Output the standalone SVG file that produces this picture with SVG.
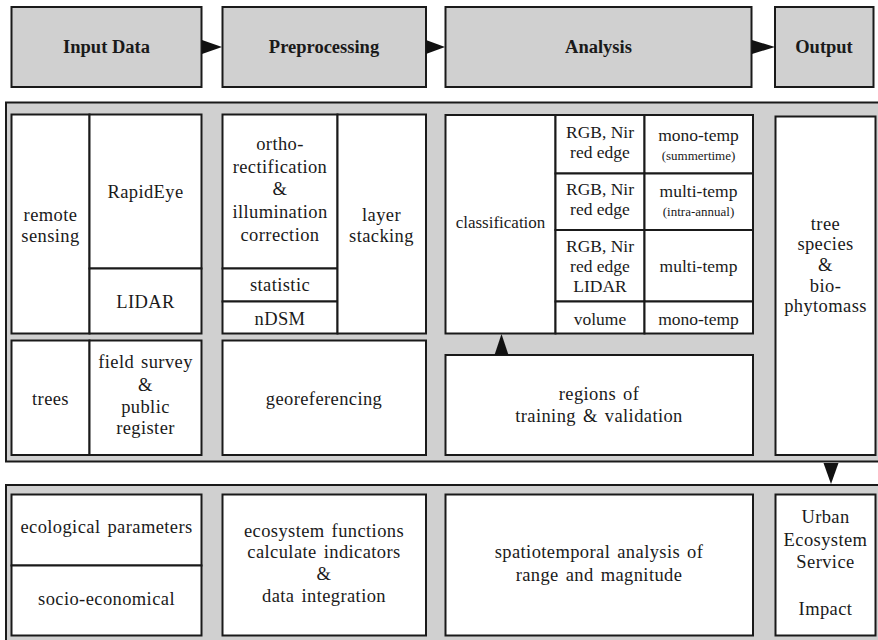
<svg xmlns="http://www.w3.org/2000/svg" width="878" height="640" viewBox="0 0 878 640" font-family="'Liberation Serif', 'DejaVu Serif', 'Times New Roman', serif">
<style>
.hdr{fill:#d0d0d0;stroke:#1a1a1a;stroke-width:2}
.panel{fill:#d0d0d0;stroke:#1a1a1a;stroke-width:2}
.box{fill:#ffffff;stroke:#1a1a1a;stroke-width:2}
text{font-family:'Liberation Serif','DejaVu Serif','Times New Roman',serif;fill:#1a1a1a;text-anchor:middle}
.h{font-weight:bold;font-size:18.5px}
.t{font-size:18.5px;letter-spacing:0.4px;word-spacing:2px}
.a{font-size:17.5px}
.s{font-size:13px}
.arr{fill:#111111}
</style>
<rect width="878" height="640" fill="#ffffff"/>
<g id="header-input"><rect class="hdr" x="11.5" y="7" width="190" height="80"/><text class="h" x="106.5" y="53">Input Data</text></g>
<g id="header-pre"><rect class="hdr" x="222.5" y="7" width="203.5" height="80"/><text class="h" x="324" y="53">Preprocessing</text></g>
<g id="header-analysis"><rect class="hdr" x="445.5" y="7" width="306" height="80"/><text class="h" x="598.5" y="53">Analysis</text></g>
<g id="header-output"><rect class="hdr" x="775" y="7" width="98.5" height="80"/><text class="h" x="824" y="53">Output</text></g>

<g id="panel-top"><rect class="panel" x="6" y="102.5" width="890" height="359"/></g>
<g id="panel-bottom"><rect class="panel" x="6" y="485" width="890" height="170"/></g>

<g id="remote-sensing"><rect class="box" x="11.5" y="114.5" width="78" height="219"/><text class="t" x="50.5" y="221">remote</text><text class="t" x="50.5" y="242">sensing</text></g>
<g id="rapideye"><rect class="box" x="89.5" y="114.5" width="112" height="154"/><text class="t" x="145.5" y="198">RapidEye</text></g>
<g id="lidar"><rect class="box" x="89.5" y="268.5" width="112" height="65"/><text class="t" x="145.5" y="308">LIDAR</text></g>
<g id="ortho"><rect class="box" x="222.5" y="114.5" width="115" height="154"/><text class="t" x="280" y="150">ortho-</text><text class="t" x="280" y="173">rectification</text><text class="t" x="280" y="195">&amp;</text><text class="t" x="280" y="218">illumination</text><text class="t" x="280" y="241">correction</text></g>
<g id="statistic"><rect class="box" x="222.5" y="268.5" width="115" height="33"/><text class="t" x="280" y="291">statistic</text></g>
<g id="ndsm"><rect class="box" x="222.5" y="301.5" width="115" height="32"/><text class="t" x="280" y="325">nDSM</text></g>
<g id="layer-stacking"><rect class="box" x="337.5" y="114.5" width="88.5" height="219"/><text class="t" x="381.5" y="221">layer</text><text class="t" x="381.5" y="242">stacking</text></g>
<g id="trees"><rect class="box" x="11.5" y="340.5" width="78" height="114.5"/><text class="t" x="50.5" y="405">trees</text></g>
<g id="field-survey"><rect class="box" x="89.5" y="340.5" width="112" height="114.5"/><text class="t" x="145.5" y="368">field survey</text><text class="t" x="145.5" y="391">&amp;</text><text class="t" x="145.5" y="413">public</text><text class="t" x="145.5" y="434">register</text></g>
<g id="georeferencing"><rect class="box" x="222.5" y="340.5" width="203.5" height="114.5"/><text class="t" x="324" y="405">georeferencing</text></g>

<g id="classification"><rect class="box" x="445.5" y="115" width="110" height="218.5"/><text class="a" x="500.5" y="228" style="font-size:17px">classification</text></g>
<g id="band1"><rect class="box" x="555.5" y="115" width="89" height="58.5"/><text class="a" x="600" y="138">RGB, Nir</text><text class="a" x="600" y="158">red edge</text></g>
<g id="temp1"><rect class="box" x="644.5" y="115" width="108.5" height="58.5"/><text class="a" x="698.5" y="141">mono-temp</text><text class="s" x="698.5" y="160">(summertime)</text></g>
<g id="band2"><rect class="box" x="555.5" y="173.5" width="89" height="56.5"/><text class="a" x="600" y="195">RGB, Nir</text><text class="a" x="600" y="215">red edge</text></g>
<g id="temp2"><rect class="box" x="644.5" y="173.5" width="108.5" height="56.5"/><text class="a" x="698.5" y="197">multi-temp</text><text class="s" x="698.5" y="216">(intra-annual)</text></g>
<g id="band3"><rect class="box" x="555.5" y="230" width="89" height="71.5"/><text class="a" x="600" y="252">RGB, Nir</text><text class="a" x="600" y="272">red edge</text><text class="a" x="600" y="292">LIDAR</text></g>
<g id="temp3"><rect class="box" x="644.5" y="230" width="108.5" height="71.5"/><text class="a" x="698.5" y="272">multi-temp</text></g>
<g id="volume"><rect class="box" x="555.5" y="301.5" width="89" height="32"/><text class="a" x="600" y="325">volume</text></g>
<g id="temp4"><rect class="box" x="644.5" y="301.5" width="108.5" height="32"/><text class="a" x="698.5" y="325">mono-temp</text></g>
<g id="regions"><rect class="box" x="445.5" y="355" width="307.5" height="100"/><text class="t" x="599" y="400">regions of</text><text class="t" x="599" y="422">training &amp; validation</text></g>
<g id="tree-species"><rect class="box" x="775.5" y="116.5" width="100" height="338.5"/><text class="t" x="825.5" y="230">tree</text><text class="t" x="825.5" y="250">species</text><text class="t" x="825.5" y="271">&amp;</text><text class="t" x="825.5" y="292">bio-</text><text class="t" x="825.5" y="312">phytomass</text></g>

<g id="ecological"><rect class="box" x="11.5" y="494.5" width="190" height="71"/><text class="t" x="106.5" y="533">ecological parameters</text></g>
<g id="socio"><rect class="box" x="11.5" y="565.5" width="190" height="70"/><text class="t" x="106.5" y="605">socio-economical</text></g>
<g id="ecosystem-functions"><rect class="box" x="222.5" y="494.5" width="203.5" height="141"/><text class="t" x="324" y="537">ecosystem functions</text><text class="t" x="324" y="558">calculate indicators</text><text class="t" x="324" y="580">&amp;</text><text class="t" x="324" y="602">data integration</text></g>
<g id="spatiotemporal"><rect class="box" x="445.5" y="494.5" width="307.5" height="141"/><text class="t" x="599" y="558">spatiotemporal analysis of</text><text class="t" x="599" y="581">range and magnitude</text></g>
<g id="urban"><rect class="box" x="775.5" y="494.5" width="100" height="141"/><text class="t" x="825.5" y="523">Urban</text><text class="t" x="825.5" y="546">Ecosystem</text><text class="t" x="825.5" y="568">Service</text><text class="t" x="825.5" y="615">Impact</text></g>

<g id="connectors">
<polygon class="arr" points="202,40 222,47 202,54"/>
<polygon class="arr" points="426,40 445,47 426,54"/>
<polygon class="arr" points="752,40 775,47 752,54"/>
<polygon class="arr" points="494.5,355 501.5,334 508.5,355"/>
<polygon class="arr" points="823.5,463 838.5,463 831,484"/>
</g>
</svg>
